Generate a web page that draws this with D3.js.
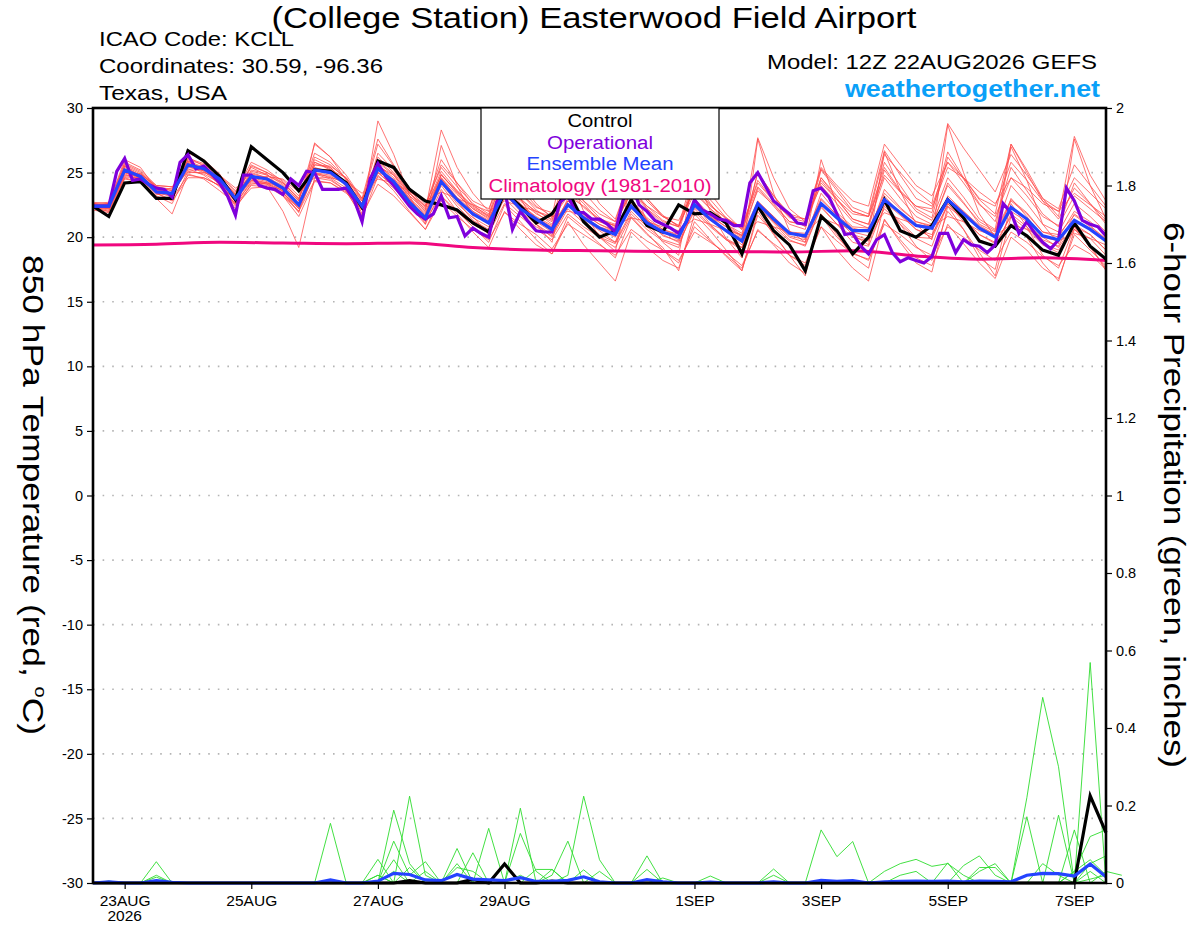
<!DOCTYPE html>
<html>
<head>
<meta charset="utf-8">
<script src="https://cdn.jsdelivr.net/npm/d3@7"></script>
<style>
  body { margin: 0; background: #fff; }
  text { font-family: "Liberation Sans", Arial, Helvetica, sans-serif; }
</style>
</head>
<body>
<script>
// run start 12Z 22AUG2026, 6-hourly ensemble, 3-hourly operational
const runStart = Date.UTC(2026, 7, 22, 12)
const HOUR = 3600 * 1000

const xTickDays = ['2026-08-23', '2026-08-25', '2026-08-27', '2026-08-29', '2026-09-01', '2026-09-03', '2026-09-05', '2026-09-07']
const xTickLabels = ['23AUG', '25AUG', '27AUG', '29AUG', '1SEP', '3SEP', '5SEP', '7SEP']
const tempTicks = [-30, -25, -20, -15, -10, -5, 0, 5, 10, 15, 20, 25, 30]
const precipTicks = [0, 0.2, 0.4, 0.6, 0.8, 1, 1.2, 1.4, 1.6, 1.8, 2]
const legendItems = ['Control', 'Operational', 'Ensemble Mean', 'Climatology (1981-2010)']

// 850 hPa temperature, control run (6-hourly)
const tempControl = [22.4, 21.6,
  24.2, 24.3, 23.0, 23.0, 26.7, 25.9, 24.7, 22.9, 27.0, 26.0, 25.0, 23.6,
  25.2, 25.1, 24.2, 22.3, 25.9, 25.4, 23.7, 22.8, 22.5, 22.1, 21.1, 20.4,
  23.5, 22.4, 21.1, 21.8, 23.6, 21.2, 20.0, 20.5, 22.9, 20.9, 20.4, 22.5,
  21.8, 21.9, 21.1, 18.7, 22.4, 20.5, 19.4, 17.4, 21.6, 20.5, 18.7, 20.0,
  22.9, 20.5, 20.0, 20.9, 22.9, 21.5, 19.7, 19.3, 20.9, 20.1, 19.0, 18.6,
  21.1, 19.3, 18.3]

// operational run (3-hourly)
const tempOper = [
  22.4, 22.4, 22.4, 25.1, 26.1, 24.4, 24.5, 24.1,
  23.8, 23.7, 23.1, 25.8, 26.4, 25.3, 25.5, 24.9,
  24.2, 23.2, 21.7, 24.8, 24.8, 24.0, 23.8, 23.7,
  23.3, 24.5, 24.0, 25.1, 25.0, 23.7, 23.7, 23.7,
  23.8, 22.9, 21.2, 24.5, 25.7, 24.7, 24.0, 23.2,
  22.4, 21.8, 21.4, 21.8, 23.2, 21.5, 21.6, 20.1,
  20.7, 20.3, 20.0, 22.7, 23.7, 20.6, 22.0, 21.2,
  20.5, 20.4, 20.4, 22.7, 23.2, 21.9, 21.9, 21.4,
  21.4, 21.0, 20.4, 22.9, 24.1, 22.5, 22.0, 21.3,
  21.0, 20.7, 20.3, 21.2, 22.9, 22.1, 21.8, 21.4,
  21.3, 20.9, 20.9, 24.2, 25.0, 23.9, 22.8, 22.3,
  21.8, 21.1, 21.0, 23.6, 23.8, 23.1, 21.8, 20.2,
  20.3, 19.3, 18.7, 19.8, 20.2, 18.8, 18.1, 18.4,
  18.2, 18.0, 18.5, 20.3, 20.3, 18.8, 19.8, 19.4,
  19.3, 18.8, 19.4, 22.6, 21.9, 20.3, 21.2, 20.3,
  19.6, 19.1, 19.8, 23.8, 22.8, 21.3, 21.0, 20.8,
  20.1]

const tempMean = [22.4, 22.4,
  25.2, 24.7, 23.5, 23.4, 25.6, 25.3, 24.5, 23.0, 24.7, 24.5, 23.8, 22.5,
  25.2, 25.0, 24.1, 22.4, 25.3, 24.3, 22.7, 21.5, 24.3, 22.9, 21.8, 21.1,
  23.5, 22.2, 21.4, 20.6, 22.5, 21.5, 20.7, 20.2, 22.4, 21.1, 20.4, 20.0,
  22.5, 21.4, 20.5, 19.7, 22.6, 21.4, 20.3, 20.1, 22.6, 21.5, 20.5, 20.5,
  22.9, 21.9, 20.9, 20.7, 22.9, 21.8, 20.7, 20.0, 22.3, 21.4, 20.1, 19.8,
  21.3, 20.6, 19.7]

// climatology, daily at 12Z
const tempClimo = [19.4, 19.45, 19.6, 19.55, 19.5, 19.55, 19.2, 19.0, 18.95, 18.9, 18.9, 18.85, 18.95, 18.55, 18.3, 18.4, 18.2]

// ensemble members (6-hourly)
const tempMembers = [
  [22.6, 22.3, 25.6, 25.0, 23.8, 23.6, 26.2, 25.5, 24.6, 23.4, 25.5, 25.0, 24.2, 23.0, 26.5, 25.8, 24.5, 22.8, 27.2, 25.5, 23.6, 22.4, 26.0, 24.2, 22.5, 21.6, 25.0, 23.4, 22.1, 21.3, 24.6, 22.8, 21.5, 20.8, 24.0, 22.2, 21.0, 20.4, 24.5, 22.6, 21.0, 20.1, 25.0, 23.2, 21.6, 20.8, 24.6, 23.0, 21.4, 21.0, 25.8, 24.0, 22.2, 21.5, 26.2, 24.5, 22.6, 21.2, 25.4, 23.6, 21.8, 20.8, 24.2, 22.6, 21.3],
  [22.1, 21.9, 24.5, 24.3, 23.1, 23.0, 24.8, 24.6, 24.0, 22.4, 23.8, 23.9, 23.2, 21.6, 24.3, 24.2, 23.5, 21.7, 24.1, 23.2, 21.9, 20.6, 22.8, 21.6, 20.6, 19.8, 21.9, 21.0, 20.2, 19.1, 21.0, 20.2, 19.4, 18.6, 20.6, 19.7, 19.0, 18.2, 20.4, 19.6, 18.8, 17.8, 20.5, 19.5, 18.6, 18.0, 20.8, 19.7, 18.7, 18.3, 21.0, 20.2, 19.2, 18.6, 20.8, 20.0, 19.0, 18.2, 20.4, 19.6, 18.5, 17.8, 19.4, 18.7, 17.5],
  [22.4, 22.5, 25.4, 24.8, 23.6, 23.8, 25.9, 25.1, 24.1, 22.8, 24.4, 24.1, 23.6, 22.2, 25.6, 25.5, 24.6, 23.0, 25.0, 24.5, 23.2, 22.0, 24.8, 23.5, 22.2, 21.5, 23.8, 22.9, 22.0, 21.4, 23.2, 22.4, 21.4, 21.0, 23.5, 22.2, 21.2, 20.8, 23.8, 22.4, 21.5, 20.6, 23.6, 22.5, 21.2, 20.9, 24.2, 22.9, 21.8, 21.6, 24.8, 23.5, 22.4, 22.2, 25.4, 24.6, 23.5, 22.6, 24.6, 23.8, 22.6, 22.0, 23.4, 22.5, 21.6],
  [22.7, 22.6, 26.0, 25.4, 23.7, 23.2, 26.5, 26.0, 24.9, 22.9, 25.2, 24.9, 23.5, 21.9, 27.3, 26.2, 24.4, 21.8, 29.0, 26.4, 23.2, 21.0, 27.1, 24.0, 21.6, 20.2, 25.8, 23.0, 21.0, 19.6, 25.0, 22.0, 20.0, 18.9, 24.2, 21.2, 19.6, 18.6, 25.1, 22.0, 19.9, 18.4, 27.6, 23.4, 20.5, 19.6, 26.0, 22.5, 20.2, 19.4, 26.6, 23.6, 21.0, 19.8, 28.7, 25.0, 21.8, 20.0, 27.0, 24.4, 21.0, 19.5, 27.6, 24.0, 21.4],
  [22.2, 22.0, 24.9, 24.4, 23.2, 22.6, 25.1, 24.9, 24.2, 22.5, 24.0, 23.9, 22.0, 19.2, 24.6, 24.4, 23.6, 21.5, 24.7, 23.8, 22.4, 21.0, 23.7, 22.0, 20.8, 19.6, 22.5, 21.2, 19.8, 18.7, 21.6, 20.6, 19.5, 18.4, 21.5, 20.2, 19.2, 17.4, 21.8, 20.5, 19.0, 17.4, 21.7, 20.3, 18.6, 17.0, 21.8, 20.2, 18.5, 17.6, 22.6, 21.0, 19.3, 18.2, 22.0, 20.6, 18.8, 17.0, 21.6, 20.0, 18.0, 16.6, 20.6, 19.4, 17.4],
  [22.5, 22.3, 25.1, 24.6, 23.4, 23.5, 25.4, 25.2, 24.7, 23.2, 24.9, 24.6, 24.0, 22.8, 25.0, 24.8, 24.2, 22.6, 25.6, 24.6, 22.9, 21.8, 24.6, 23.3, 22.2, 21.4, 23.9, 22.5, 21.6, 20.9, 22.8, 21.8, 21.0, 20.4, 22.9, 21.5, 20.6, 20.2, 22.3, 21.3, 20.6, 19.9, 22.4, 21.2, 20.1, 19.8, 23.4, 21.9, 20.8, 20.7, 22.7, 21.7, 20.6, 20.0, 23.2, 22.0, 20.9, 20.2, 22.0, 21.2, 19.8, 19.3, 21.8, 20.9, 19.8],
  [22.3, 22.4, 24.7, 24.9, 24.0, 23.9, 25.0, 25.0, 24.8, 23.8, 24.6, 24.7, 24.5, 23.5, 24.6, 24.6, 24.3, 23.4, 24.5, 24.2, 23.5, 22.8, 23.5, 23.0, 22.5, 22.0, 22.8, 22.4, 22.0, 21.6, 22.0, 21.8, 21.2, 20.9, 21.5, 21.2, 20.8, 20.5, 21.4, 21.0, 20.5, 20.2, 21.2, 20.8, 20.4, 20.3, 21.5, 21.0, 20.6, 20.4, 21.9, 21.4, 21.0, 20.8, 21.6, 21.2, 20.5, 20.1, 21.0, 20.6, 20.0, 19.7, 20.3, 19.9, 19.4],
  [22.6, 22.5, 25.3, 24.5, 23.3, 23.4, 26.0, 25.6, 24.8, 23.5, 25.8, 25.2, 24.3, 22.9, 26.2, 25.6, 24.5, 22.4, 26.5, 25.2, 23.4, 22.1, 28.3, 25.4, 23.4, 22.0, 26.2, 24.2, 22.6, 21.5, 25.2, 23.5, 22.1, 21.2, 25.0, 23.0, 21.7, 20.8, 24.6, 22.9, 21.5, 20.7, 24.4, 22.8, 21.5, 21.2, 25.3, 23.8, 22.3, 21.8, 26.7, 24.8, 23.0, 22.4, 25.8, 24.2, 22.5, 21.6, 24.6, 23.2, 21.6, 20.9, 23.2, 22.2, 21.2],
  [22.3, 22.1, 25.0, 24.6, 23.5, 23.3, 25.3, 24.8, 23.9, 22.6, 24.2, 24.0, 23.4, 22.2, 24.9, 24.5, 23.6, 22.1, 24.8, 23.6, 22.0, 20.6, 23.2, 21.8, 20.4, 19.2, 22.0, 20.6, 19.4, 18.7, 21.2, 19.4, 18.0, 16.6, 20.4, 19.2, 18.2, 17.6, 21.2, 19.8, 18.5, 17.4, 22.0, 20.2, 18.6, 17.8, 20.8, 19.0, 17.6, 16.6, 21.4, 19.6, 18.0, 17.3, 22.4, 20.6, 18.4, 17.5, 22.6, 20.8, 18.6, 17.6, 20.8, 19.2, 17.6],
  [22.4, 22.2, 25.5, 24.9, 23.9, 23.7, 25.7, 25.4, 24.4, 23.1, 24.5, 24.2, 23.9, 22.6, 25.3, 25.2, 24.0, 22.3, 25.8, 24.8, 23.0, 21.4, 24.2, 22.6, 21.5, 20.8, 23.4, 22.0, 21.0, 20.2, 22.4, 21.4, 20.5, 19.6, 23.0, 21.3, 20.1, 19.7, 22.9, 21.6, 20.4, 19.4, 22.7, 21.6, 20.3, 20.2, 23.0, 21.7, 20.4, 20.1, 23.7, 22.3, 21.2, 20.8, 24.2, 22.7, 21.0, 20.4, 22.9, 21.9, 20.4, 20.2, 21.7, 20.8, 19.9],
  [22.5, 22.6, 25.2, 24.6, 23.5, 23.1, 25.6, 25.1, 24.3, 22.7, 24.8, 24.4, 23.7, 22.4, 25.4, 25.0, 24.0, 22.5, 25.0, 24.0, 22.8, 21.7, 24.6, 23.0, 21.8, 21.0, 23.6, 22.4, 21.5, 20.7, 22.8, 21.8, 21.0, 20.5, 22.2, 21.2, 20.4, 19.8, 23.0, 21.7, 20.8, 20.0, 23.8, 22.4, 21.0, 20.6, 25.2, 23.6, 22.0, 21.6, 26.4, 25.0, 23.6, 22.6, 28.8, 26.9, 25.2, 23.5, 26.4, 24.8, 23.0, 22.2, 25.6, 24.0, 22.4],
  [22.2, 22.3, 24.8, 24.5, 23.6, 23.2, 25.8, 25.3, 24.2, 23.0, 25.0, 24.6, 23.8, 22.6, 25.8, 25.3, 23.9, 22.2, 25.4, 24.0, 22.5, 21.2, 24.0, 22.4, 21.2, 20.5, 23.0, 21.8, 20.8, 20.1, 22.6, 21.2, 20.2, 19.6, 22.0, 20.8, 19.8, 19.4, 22.2, 20.9, 19.9, 19.2, 22.2, 20.8, 19.7, 19.4, 22.4, 21.0, 20.0, 19.7, 22.2, 21.0, 19.9, 19.3, 22.6, 21.4, 20.2, 19.5, 21.6, 20.6, 19.4, 18.8, 20.6, 19.9, 18.6],
  [22.5, 22.4, 25.8, 25.2, 24.0, 23.9, 25.5, 25.0, 24.5, 23.3, 25.4, 24.8, 24.1, 22.8, 27.2, 26.2, 24.8, 23.0, 27.6, 25.6, 23.8, 22.5, 25.4, 23.9, 22.6, 21.8, 24.4, 23.0, 21.9, 21.0, 23.8, 22.6, 21.2, 20.7, 24.5, 22.8, 21.6, 20.9, 23.4, 22.2, 21.0, 20.3, 25.0, 23.2, 21.8, 21.4, 24.0, 22.6, 21.2, 20.7, 25.2, 23.5, 22.0, 21.3, 24.6, 23.1, 21.4, 20.6, 27.2, 25.0, 22.8, 21.4, 23.8, 22.6, 21.0],
  [22.3, 22.2, 24.6, 24.2, 23.0, 21.8, 24.9, 24.5, 23.6, 22.6, 24.3, 24.1, 23.2, 22.0, 24.4, 24.2, 23.4, 22.3, 25.0, 23.9, 22.4, 21.3, 23.2, 22.0, 21.0, 20.3, 22.6, 21.6, 20.6, 19.8, 21.8, 20.8, 20.0, 19.2, 21.6, 20.3, 19.0, 18.0, 20.8, 19.7, 18.6, 17.6, 20.6, 19.4, 18.0, 17.2, 21.6, 20.0, 18.8, 18.2, 21.3, 19.8, 18.4, 17.8, 21.0, 19.5, 18.0, 16.8, 20.0, 19.0, 17.6, 16.8, 20.2, 19.0, 17.8],
  [22.6, 22.4, 25.2, 24.8, 23.7, 23.4, 25.5, 25.4, 24.6, 23.3, 24.6, 24.3, 23.7, 22.5, 25.2, 24.9, 24.3, 22.6, 25.2, 24.4, 22.8, 21.6, 24.9, 23.4, 22.0, 21.3, 24.2, 22.6, 21.5, 20.8, 22.6, 21.6, 20.8, 20.4, 22.6, 21.3, 20.6, 20.1, 22.8, 21.6, 20.8, 20.1, 22.8, 21.6, 20.4, 19.9, 22.9, 21.7, 20.7, 20.4, 23.4, 22.2, 21.2, 20.9, 23.0, 22.0, 20.8, 20.2, 22.8, 21.8, 20.4, 20.0, 22.0, 21.2, 20.2],
  [22.4, 22.6, 25.0, 24.5, 23.4, 23.3, 25.7, 25.2, 24.5, 23.0, 24.4, 24.2, 23.6, 22.4, 25.6, 25.4, 24.1, 22.6, 25.9, 24.9, 23.2, 22.2, 25.1, 23.6, 22.4, 21.7, 25.6, 23.8, 22.4, 21.6, 27.4, 24.6, 22.6, 21.4, 24.8, 23.0, 21.6, 20.9, 25.2, 23.4, 21.8, 20.6, 27.7, 24.6, 22.2, 21.2, 24.4, 22.9, 21.4, 21.0, 24.6, 23.0, 21.6, 21.0, 24.0, 22.6, 21.2, 20.5, 24.0, 22.6, 21.0, 20.4, 22.6, 21.6, 20.4],
  [22.3, 22.0, 24.6, 24.6, 23.4, 22.8, 24.6, 24.6, 24.0, 22.2, 24.1, 24.2, 23.3, 22.0, 25.0, 24.6, 23.8, 22.1, 25.2, 24.2, 22.6, 21.5, 24.4, 22.8, 21.3, 20.6, 24.0, 22.2, 21.0, 20.0, 22.2, 21.1, 20.0, 19.5, 21.8, 20.6, 19.7, 19.2, 22.6, 21.0, 19.8, 19.0, 22.4, 21.1, 19.8, 19.3, 22.3, 21.0, 19.6, 19.3, 22.4, 21.2, 20.0, 19.9, 22.6, 21.2, 19.8, 19.2, 21.8, 20.8, 19.5, 19.0, 20.8, 20.2, 19.0],
  [22.5, 22.3, 25.5, 24.7, 23.4, 22.9, 26.1, 25.7, 24.8, 23.6, 25.1, 24.8, 24.2, 23.0, 25.8, 25.2, 24.6, 22.9, 25.5, 24.8, 23.4, 22.3, 24.8, 23.6, 22.3, 21.6, 24.2, 22.8, 21.8, 21.2, 23.6, 22.3, 21.3, 20.9, 23.8, 22.4, 21.3, 20.8, 24.0, 22.5, 21.4, 20.8, 23.9, 22.6, 21.2, 21.0, 24.6, 23.2, 22.0, 21.6, 25.4, 23.6, 22.4, 21.9, 26.6, 24.6, 22.9, 21.8, 27.2, 25.2, 23.0, 21.6, 27.8, 24.8, 22.8],
  [22.4, 22.5, 25.0, 24.9, 23.7, 23.4, 25.2, 25.2, 24.4, 23.0, 24.7, 24.6, 23.4, 22.3, 24.9, 24.7, 24.1, 22.5, 25.7, 24.4, 23.0, 21.9, 24.5, 23.1, 22.0, 21.2, 23.2, 22.2, 21.2, 20.4, 23.0, 21.7, 20.6, 20.0, 22.8, 21.4, 20.2, 19.6, 22.0, 20.8, 19.8, 19.2, 22.6, 21.2, 20.0, 19.6, 22.6, 21.4, 20.2, 19.8, 23.2, 21.8, 20.6, 20.2, 22.4, 21.4, 20.2, 19.6, 23.0, 21.6, 20.0, 19.2, 21.0, 20.2, 19.0],
  [22.6, 22.7, 25.7, 25.1, 23.9, 23.6, 25.9, 25.4, 24.0, 22.9, 25.6, 25.0, 24.4, 23.2, 26.0, 25.4, 24.2, 22.8, 26.2, 25.0, 23.4, 22.4, 25.6, 24.2, 22.8, 22.2, 25.0, 23.4, 22.3, 21.9, 24.0, 22.8, 21.8, 21.2, 23.4, 22.4, 21.6, 21.3, 23.6, 22.2, 21.2, 20.9, 24.2, 22.8, 21.6, 21.4, 25.4, 24.0, 22.8, 22.4, 27.2, 25.6, 24.0, 23.2, 25.8, 24.6, 23.0, 22.4, 25.8, 24.4, 22.8, 22.0, 24.6, 23.4, 22.2]
]

// 6-hour precipitation (inches)
const precipControl = [
  0, 0, 0, 0, 0, 0, 0, 0, 0, 0, 0, 0, 0,
  0, 0, 0, 0, 0, 0, 0, 0.006, 0, 0, 0, 0.009, 0,
  0.049, 0, 0, 0.005, 0, 0, 0, 0, 0, 0, 0, 0, 0,
  0, 0, 0, 0, 0, 0, 0, 0, 0, 0, 0, 0, 0,
  0, 0, 0, 0, 0, 0, 0, 0, 0, 0, 0, 0.225, 0.13]

const precipMean = [
  0, 0.003, 0, 0, 0.006, 0.002, 0, 0, 0, 0, 0, 0, 0,
  0, 0, 0.008, 0, 0, 0.005, 0.025, 0.022, 0.008, 0.006, 0.022, 0.01, 0.008,
  0.006, 0.014, 0.004, 0.004, 0.007, 0.016, 0.003, 0, 0, 0.009, 0.003, 0, 0,
  0.002, 0, 0, 0, 0.003, 0, 0, 0.007, 0.004, 0.006, 0, 0.003, 0.004,
  0.005, 0.004, 0.005, 0.003, 0.005, 0.004, 0.003, 0.02, 0.025, 0.024, 0.018, 0.049, 0.016]

const precipMembers = [
  [0, 0.005, 0, 0, 0, 0, 0, 0, 0, 0, 0, 0, 0, 0, 0, 0, 0, 0, 0, 0, 0, 0, 0, 0, 0, 0, 0, 0, 0, 0, 0, 0, 0, 0, 0, 0, 0, 0, 0, 0.018, 0, 0, 0, 0, 0, 0, 0, 0, 0, 0, 0, 0, 0, 0, 0, 0, 0, 0, 0, 0, 0, 0, 0, 0.01, 0.02],
  [0, 0, 0, 0, 0, 0, 0, 0, 0, 0, 0, 0, 0, 0, 0, 0, 0, 0, 0, 0.03, 0, 0, 0, 0, 0, 0, 0, 0, 0, 0.035, 0, 0, 0, 0, 0, 0, 0, 0, 0, 0, 0, 0, 0, 0.036, 0, 0, 0, 0, 0, 0, 0, 0, 0, 0, 0, 0, 0, 0, 0, 0, 0, 0, 0, 0, 0],
  [0, 0, 0, 0, 0.055, 0, 0, 0, 0, 0, 0, 0, 0, 0, 0, 0, 0, 0, 0, 0, 0, 0, 0, 0, 0, 0, 0, 0, 0, 0, 0, 0, 0, 0, 0, 0.035, 0, 0, 0, 0, 0, 0, 0, 0, 0, 0, 0, 0, 0, 0, 0, 0, 0, 0, 0, 0, 0, 0, 0, 0, 0, 0, 0, 0.03, 0],
  [0, 0, 0, 0, 0, 0, 0, 0, 0, 0, 0, 0, 0, 0, 0, 0.154, 0, 0, 0.02, 0, 0, 0, 0, 0, 0, 0, 0, 0, 0, 0, 0, 0, 0, 0, 0, 0, 0, 0, 0, 0, 0, 0, 0, 0.02, 0, 0, 0, 0, 0, 0, 0, 0, 0, 0, 0, 0, 0, 0, 0, 0, 0, 0, 0, 0, 0],
  [0, 0, 0, 0, 0, 0, 0, 0, 0, 0, 0, 0, 0, 0, 0, 0, 0, 0, 0, 0.188, 0.05, 0, 0, 0, 0, 0, 0, 0, 0, 0, 0, 0, 0, 0, 0, 0, 0, 0, 0, 0, 0, 0, 0, 0, 0, 0, 0.137, 0.068, 0.107, 0, 0, 0, 0, 0, 0, 0, 0, 0, 0, 0, 0, 0, 0, 0, 0],
  [0, 0, 0, 0, 0, 0, 0, 0, 0, 0, 0, 0, 0, 0, 0, 0, 0, 0, 0, 0, 0.224, 0.02, 0, 0.05, 0, 0, 0, 0, 0, 0, 0, 0, 0, 0, 0, 0, 0, 0, 0, 0, 0, 0, 0, 0, 0, 0, 0, 0, 0, 0, 0.03, 0.05, 0.061, 0.043, 0.05, 0.02, 0, 0, 0, 0, 0, 0, 0, 0, 0],
  [0, 0, 0, 0, 0.02, 0, 0, 0, 0, 0, 0, 0, 0, 0, 0, 0, 0, 0, 0, 0, 0, 0, 0, 0, 0, 0.141, 0, 0, 0, 0, 0, 0, 0, 0, 0, 0, 0, 0, 0, 0, 0, 0, 0, 0, 0, 0, 0, 0, 0, 0, 0, 0, 0, 0, 0.052, 0, 0, 0, 0, 0, 0, 0, 0, 0, 0],
  [0, 0, 0, 0, 0, 0, 0, 0, 0, 0, 0, 0, 0, 0, 0, 0, 0, 0, 0.061, 0, 0, 0.03, 0, 0, 0, 0, 0, 0, 0, 0, 0, 0, 0, 0, 0, 0, 0, 0, 0, 0, 0, 0, 0, 0, 0, 0, 0, 0, 0, 0, 0, 0, 0, 0, 0, 0.045, 0.07, 0.02, 0, 0, 0, 0, 0, 0, 0],
  [0, 0, 0, 0, 0, 0, 0, 0, 0, 0, 0, 0, 0, 0, 0, 0, 0, 0, 0, 0.108, 0.02, 0.055, 0, 0, 0, 0, 0, 0, 0, 0, 0, 0, 0, 0, 0, 0, 0, 0, 0, 0, 0, 0, 0, 0, 0, 0, 0, 0, 0, 0, 0, 0, 0, 0, 0, 0, 0.03, 0.05, 0, 0, 0, 0, 0, 0, 0],
  [0, 0, 0, 0, 0.015, 0, 0, 0, 0, 0, 0, 0, 0, 0, 0, 0, 0, 0, 0, 0, 0, 0, 0, 0, 0, 0, 0, 0.193, 0, 0, 0, 0, 0, 0, 0, 0, 0, 0, 0, 0, 0, 0, 0, 0, 0, 0, 0, 0, 0, 0, 0, 0, 0, 0, 0, 0, 0.04, 0.04, 0, 0, 0, 0, 0, 0, 0],
  [0, 0, 0, 0, 0, 0, 0, 0, 0, 0, 0, 0, 0, 0, 0, 0, 0, 0, 0, 0, 0.04, 0, 0, 0, 0, 0, 0, 0, 0, 0, 0.02, 0.224, 0.06, 0, 0, 0, 0, 0, 0, 0, 0, 0, 0, 0, 0, 0, 0, 0, 0, 0, 0, 0, 0, 0, 0, 0, 0, 0, 0, 0.171, 0, 0, 0, 0, 0],
  [0, 0, 0, 0, 0, 0, 0, 0, 0, 0, 0, 0, 0, 0, 0, 0, 0, 0, 0, 0.06, 0, 0, 0, 0, 0, 0, 0, 0, 0, 0, 0, 0, 0.03, 0, 0, 0, 0, 0, 0, 0, 0, 0, 0, 0, 0, 0, 0, 0, 0, 0, 0, 0, 0, 0, 0, 0, 0, 0, 0, 0.22, 0.479, 0.3, 0, 0, 0],
  [0, 0, 0, 0, 0, 0, 0, 0, 0, 0, 0, 0, 0, 0, 0, 0, 0, 0, 0, 0, 0, 0, 0, 0.089, 0, 0, 0, 0.02, 0, 0, 0, 0, 0, 0, 0, 0, 0, 0, 0, 0, 0, 0, 0, 0, 0, 0, 0, 0, 0, 0, 0, 0, 0, 0, 0, 0, 0, 0, 0, 0, 0, 0.175, 0, 0, 0],
  [0, 0, 0, 0, 0, 0, 0, 0, 0, 0, 0, 0, 0, 0, 0, 0, 0, 0, 0, 0, 0, 0, 0, 0.04, 0.03, 0, 0, 0, 0, 0, 0, 0, 0, 0, 0, 0, 0, 0, 0, 0, 0, 0, 0, 0, 0, 0, 0, 0, 0, 0, 0, 0, 0, 0, 0, 0, 0, 0, 0, 0, 0.05, 0.02, 0, 0, 0],
  [0, 0, 0, 0, 0, 0, 0, 0, 0, 0, 0, 0, 0, 0, 0, 0, 0, 0, 0, 0, 0, 0, 0, 0, 0.078, 0, 0, 0, 0, 0, 0, 0, 0, 0, 0, 0, 0, 0, 0, 0, 0, 0, 0, 0, 0, 0, 0, 0, 0, 0, 0, 0, 0, 0, 0, 0, 0, 0, 0, 0, 0, 0, 0.137, 0, 0],
  [0, 0, 0, 0, 0, 0, 0, 0, 0, 0, 0, 0, 0, 0, 0, 0, 0, 0, 0, 0, 0, 0, 0, 0, 0, 0, 0, 0.128, 0.03, 0, 0, 0, 0, 0, 0, 0, 0, 0, 0, 0, 0, 0, 0, 0, 0, 0, 0, 0, 0, 0, 0, 0, 0, 0, 0, 0, 0, 0, 0, 0, 0, 0, 0, 0.569, 0],
  [0, 0, 0, 0, 0, 0, 0, 0, 0, 0, 0, 0, 0, 0, 0, 0, 0, 0, 0, 0, 0, 0, 0, 0, 0, 0, 0, 0, 0.035, 0.035, 0, 0, 0, 0, 0, 0, 0, 0, 0, 0, 0, 0, 0, 0, 0, 0, 0, 0, 0, 0, 0, 0, 0, 0, 0, 0, 0, 0, 0, 0, 0, 0, 0.03, 0.12, 0.137],
  [0, 0, 0, 0, 0, 0, 0, 0, 0, 0, 0, 0, 0, 0, 0, 0, 0, 0, 0, 0, 0, 0, 0, 0, 0, 0, 0, 0, 0, 0.02, 0.108, 0, 0, 0, 0, 0, 0, 0, 0, 0, 0, 0, 0, 0, 0, 0, 0, 0, 0, 0, 0, 0, 0, 0, 0, 0, 0, 0, 0, 0, 0, 0, 0, 0.05, 0.07],
  [0, 0, 0, 0, 0, 0, 0, 0, 0, 0, 0, 0, 0, 0, 0, 0, 0, 0, 0.02, 0, 0, 0, 0, 0, 0, 0, 0, 0, 0, 0, 0, 0.034, 0, 0, 0, 0, 0.013, 0, 0, 0, 0, 0, 0, 0, 0, 0, 0, 0, 0, 0, 0, 0, 0, 0, 0, 0, 0, 0, 0, 0, 0, 0, 0, 0, 0.03, 0.02],
  [0, 0, 0, 0, 0, 0, 0, 0, 0, 0, 0, 0, 0, 0, 0, 0, 0, 0, 0, 0, 0, 0, 0, 0, 0, 0, 0, 0, 0, 0, 0, 0, 0, 0, 0, 0.07, 0, 0, 0, 0, 0, 0, 0, 0, 0, 0, 0, 0, 0, 0, 0, 0.02, 0.03, 0, 0, 0, 0, 0, 0, 0, 0, 0, 0.03, 0.06, 0.02]
]

const width = 1200
const height = 927
const plot = { left: 93, right: 1106, top: 108, bottom: 883 }

const svg = d3.select('body').append('svg')
  .attr('width', width)
  .attr('height', height)

const x = d3.scaleUtc()
  .domain([new Date(runStart), new Date(runStart + 384 * HOUR)])
  .range([plot.left, plot.right])
const yT = d3.scaleLinear().domain([-30, 30]).range([plot.bottom, plot.top])
const yP = d3.scaleLinear().domain([0, 2]).range([plot.bottom, plot.top])

const at6 = i => new Date(runStart + i * 6 * HOUR)
const at3 = i => new Date(runStart + i * 3 * HOUR)
const at24 = i => new Date(runStart + i * 24 * HOUR)

const line6T = d3.line().x((d, i) => x(at6(i))).y(d => yT(d))
const line3T = d3.line().x((d, i) => x(at3(i))).y(d => yT(d))
const line24T = d3.line().x((d, i) => x(at24(i))).y(d => yT(d)).curve(d3.curveMonotoneX)
const line6P = d3.line().x((d, i) => x(at6(i))).y(d => yP(d))

// the reference font runs wider than Liberation Sans, so stretch to measured widths
const fit = (sel, w) => sel.attr('textLength', w).attr('lengthAdjust', 'spacingAndGlyphs')

// dotted grid at the inner temperature ticks
svg.append('g').selectAll('line')
  .data(tempTicks.filter(t => t > -30 && t < 30))
  .enter().append('line')
    .attr('x1', plot.left).attr('x2', plot.right)
    .attr('y1', d => yT(d)).attr('y2', d => yT(d))
    .style('stroke', '#b4b4b4')
    .style('stroke-width', 1.6)
    .style('stroke-dasharray', '1.6,8')

const chart = svg.append('g')

// ensemble members
chart.append('g').selectAll('path')
  .data(tempMembers)
  .enter().append('path')
    .attr('d', line6T)
    .style('fill', 'none')
    .style('stroke', '#ff4a4a')
    .style('stroke-width', 0.9)
    .style('opacity', 0.85)

chart.append('g').selectAll('path')
  .data(precipMembers)
  .enter().append('path')
    .attr('d', line6P)
    .style('fill', 'none')
    .style('stroke', '#2edc2e')
    .style('stroke-width', 0.9)

chart.append('path').attr('d', line24T(tempClimo))
  .style('fill', 'none').style('stroke', '#f0077f').style('stroke-width', 3)

chart.append('path').attr('d', line6P(precipControl))
  .style('fill', 'none').style('stroke', '#000').style('stroke-width', 3.2)
chart.append('path').attr('d', line6P(precipMean))
  .style('fill', 'none').style('stroke', '#2443ff').style('stroke-width', 3.2)

chart.append('path').attr('d', line6T(tempControl))
  .style('fill', 'none').style('stroke', '#000').style('stroke-width', 3.2)
chart.append('path').attr('d', line3T(tempOper))
  .style('fill', 'none').style('stroke', '#7f00dc').style('stroke-width', 3.2)
chart.append('path').attr('d', line6T(tempMean))
  .style('fill', 'none').style('stroke', '#2443ff').style('stroke-width', 3.2)

// axes
const leftAxis = svg.append('g')
  .attr('transform', `translate(${plot.left},0)`)
  .call(d3.axisLeft(yT).tickValues(tempTicks).tickFormat(d => String(d)).tickSize(6).tickPadding(4))
const rightAxis = svg.append('g')
  .attr('transform', `translate(${plot.right},0)`)
  .call(d3.axisRight(yP).tickValues(precipTicks).tickFormat(d3.format('~g')).tickSize(6).tickPadding(4))
const bottomAxis = svg.append('g')
  .attr('transform', `translate(0,${plot.bottom})`)
  .call(d3.axisBottom(x)
    .tickValues(xTickDays.map(d => new Date(d + 'T00:00Z')))
    .tickFormat((d, i) => xTickLabels[i])
    .tickSize(6).tickPadding(6))

for (const ax of [leftAxis, rightAxis, bottomAxis]) {
  ax.select('.domain').remove()
  ax.selectAll('.tick line').style('stroke', '#000').style('stroke-width', 1.2)
  ax.selectAll('.tick text')
    .style('font-family', '"Liberation Sans", Arial, sans-serif')
    .style('font-size', '14.5px')
    .style('fill', '#000')
}
bottomAxis.selectAll('.tick text').style('font-size', '15.5px')

svg.append('text')
  .attr('x', x(new Date(xTickDays[0] + 'T00:00Z')))
  .attr('y', 921)
  .attr('text-anchor', 'middle')
  .style('font-size', '15.5px')
  .text('2026')

// frame
svg.append('rect')
  .attr('x', plot.left).attr('y', plot.top)
  .attr('width', plot.right - plot.left).attr('height', plot.bottom - plot.top)
  .style('fill', 'none').style('stroke', '#000').style('stroke-width', 2.6)

// legend
const legendWidths = [65, 106, 147, 223]
const legend = svg.append('g')
legend.append('rect')
  .attr('x', 481).attr('y', plot.top)
  .attr('width', 238).attr('height', 91)
  .style('fill', '#fff').style('stroke', '#000').style('stroke-width', 1.2)
legend.selectAll('text')
  .data(legendItems)
  .enter().append('text')
    .attr('x', 600)
    .attr('y', (d, i) => 127 + i * 21.6)
    .attr('text-anchor', 'middle')
    .attr('textLength', (d, i) => legendWidths[i])
    .attr('lengthAdjust', 'spacingAndGlyphs')
    .style('font-size', '18px')
    .style('fill', (d, i) => ['#000', '#7f00dc', '#2443ff', '#f0077f'][i])
    .text(d => d)

// header
svg.append('text')
  .attr('x', 594).attr('y', 28)
  .attr('text-anchor', 'middle')
  .style('font-size', '29px')
  .call(fit, 645)
  .text('(College Station) Easterwood Field Airport')

const info = ['ICAO Code: KCLL', 'Coordinates: 30.59, -96.36', 'Texas, USA']
const infoWidths = [195, 284, 128]
svg.append('g').selectAll('text')
  .data(info)
  .enter().append('text')
    .attr('x', 99)
    .attr('y', (d, i) => 46 + i * 27)
    .attr('textLength', (d, i) => infoWidths[i])
    .attr('lengthAdjust', 'spacingAndGlyphs')
    .style('font-size', '21px')
    .text(d => d)

svg.append('text')
  .attr('x', 1097).attr('y', 68.5)
  .attr('text-anchor', 'end')
  .style('font-size', '21px')
  .call(fit, 330)
  .text('Model: 12Z 22AUG2026 GEFS')

svg.append('text')
  .attr('x', 1100).attr('y', 97)
  .attr('text-anchor', 'end')
  .style('font-size', '23px')
  .style('font-weight', 'bold')
  .style('fill', '#0aa0f8')
  .call(fit, 255)
  .text('weathertogether.net')

// axis titles
const leftTitle = svg.append('text')
  .attr('transform', 'translate(23,495) rotate(90)')
  .attr('text-anchor', 'middle')
  .style('font-size', '30px')
  .call(fit, 480)
leftTitle.append('tspan').text('850 hPa Temperature (red, ')
leftTitle.append('tspan').attr('dy', -12).style('font-size', '17px').text('o')
leftTitle.append('tspan').attr('dy', 12).text('C)')

svg.append('text')
  .attr('transform', 'translate(1164,495) rotate(90)')
  .attr('text-anchor', 'middle')
  .style('font-size', '30px')
  .call(fit, 546)
  .text('6-hour Precipitation (green, inches)')
</script>
</body>
</html>
